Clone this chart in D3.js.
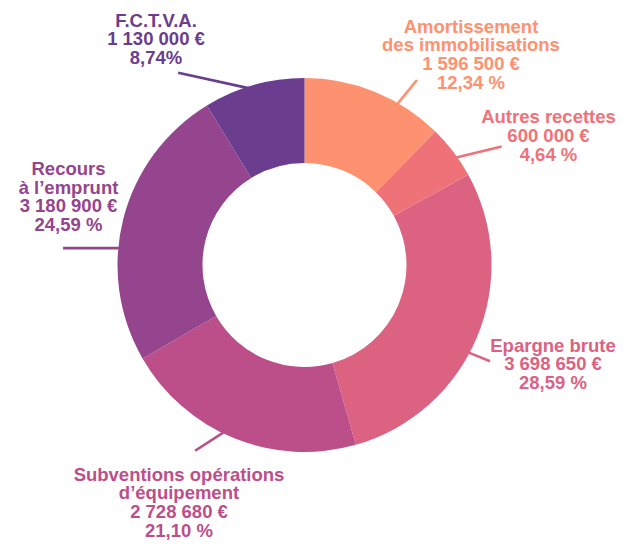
<!DOCTYPE html>
<html>
<head>
<meta charset="utf-8">
<script src="https://cdn.jsdelivr.net/npm/d3@7"></script>
<style>
  html, body { margin: 0; padding: 0; background: #ffffff; }
  svg { display: block; }
  text { font-family: "Liberation Sans", Arial, sans-serif; font-weight: bold; font-size: 18.5px; }
</style>
</head>
<body>
<svg id="chart" width="636" height="552"></svg>
<script>
// ---- Data ----
const categories = [
  "Amortissement des immobilisations",
  "Autres recettes",
  "Epargne brute",
  "Subventions opérations d’équipement",
  "Recours à l’emprunt",
  "F.C.T.V.A."
];
const nameLines = [
  ["Amortissement", "des immobilisations"],
  ["Autres recettes"],
  ["Epargne brute"],
  ["Subventions opérations", "d’équipement"],
  ["Recours", "à l’emprunt"],
  ["F.C.T.V.A."]
];
const values = [1596500, 600000, 3698650, 2728680, 3180900, 1130000];
const percentLabels = ["12,34 %", "4,64 %", "28,59 %", "21,10 %", "24,59 %", "8,74%"];
const colors = ["#fe9270", "#f07279", "#dc6282", "#bc4f8a", "#95448e", "#6a3d8f"];

// ---- Layout (label placement, not data) ----
const cx = 304.5, cy = 265, outerR = 187, innerR = 102;
const lineH = 18.7;
// leader: [startAngleDeg, startR, endAngleDeg, endR]; text: [centerX, firstBaseline]
const labelLayout = [
  { leader: [30, 186, 31.3, 216.5], text: [471, 32.7] },
  { leader: [54.7, 186, 59, 230], text: [548.5, 123.3] },
  { leader: [118.1, 185, 117.4, 209], text: [553, 351.7] },
  { leader: [205.8, 186, 210.5, 215.6], text: [179, 480.7] },
  { leader: [275.2, 186, 274, 242], text: [68.5, 175] },
  { leader: [342.7, 185, 326.7, 230], text: [156, 26.7] }
];

const locale = d3.formatLocale({ decimal: ",", thousands: "\u00a0", grouping: [3], currency: ["", "\u00a0€"] });
const fmtMoney = locale.format("$,");

const svg = d3.select("#chart");
const g = svg.append("g").attr("transform", `translate(${cx},${cy})`);

const pie = d3.pie().sort(null).value(d => d)(values);
const arc = d3.arc().innerRadius(innerR).outerRadius(outerR);

g.selectAll("path.slice")
  .data(pie)
  .join("path")
  .attr("class", "slice")
  .attr("d", arc)
  .attr("fill", (d, i) => colors[i]);

function polar(angDeg, r) {
  const a = angDeg * Math.PI / 180;
  return [cx + r * Math.sin(a), cy - r * Math.cos(a)];
}

// leader lines
svg.selectAll("line.leader")
  .data(labelLayout)
  .join("line")
  .attr("class", "leader")
  .attr("x1", d => polar(d.leader[0], d.leader[1])[0])
  .attr("y1", d => polar(d.leader[0], d.leader[1])[1])
  .attr("x2", d => polar(d.leader[2], d.leader[3])[0])
  .attr("y2", d => polar(d.leader[2], d.leader[3])[1])
  .attr("stroke", (d, i) => colors[i])
  .attr("stroke-width", 2.6);

// labels
const labels = svg.selectAll("text.label")
  .data(labelLayout)
  .join("text")
  .attr("class", "label")
  .attr("text-anchor", "middle")
  .attr("fill", (d, i) => colors[i]);

labels.each(function (d, i) {
  const lines = nameLines[i].concat([fmtMoney(values[i]), percentLabels[i]]);
  d3.select(this).selectAll("tspan")
    .data(lines)
    .join("tspan")
    .attr("x", d.text[0])
    .attr("y", (t, k) => d.text[1] + k * lineH)
    .text(t => t);
});
</script>
</body>
</html>
